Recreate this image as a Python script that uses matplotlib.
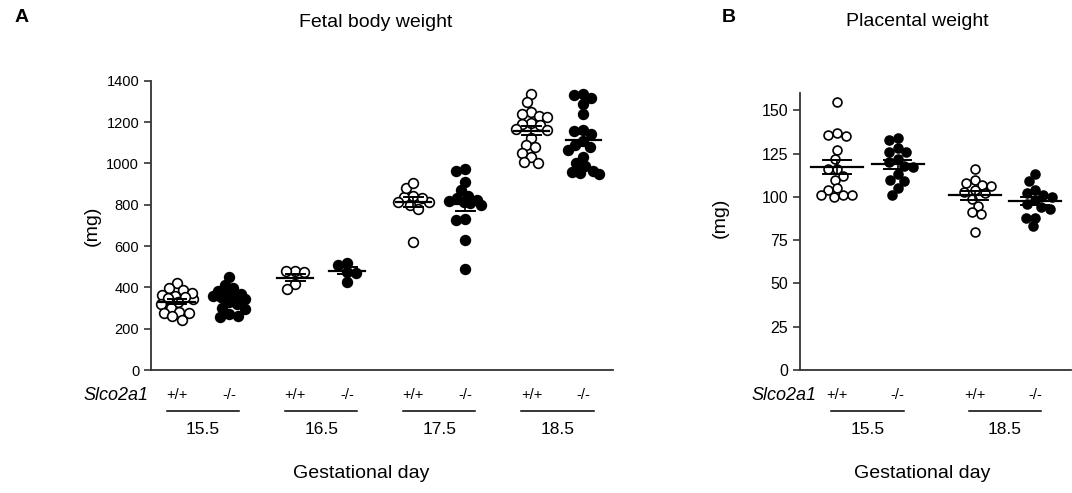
import numpy as np
import matplotlib
matplotlib.use("Agg")
import matplotlib.pyplot as plt
from matplotlib.transforms import blended_transform_factory

plt.rcParams["font.family"] = ["Liberation Sans", "DejaVu Sans"]

# ---- data (mg) ----
days_a = ["15.5", "16.5", "17.5", "18.5"]
fetal_wt = [
    [345, 420, 395, 385, 375, 365, 360, 355, 350, 330, 320, 300, 280, 275, 275, 260, 240],
    [480, 472, 478, 415, 392],
    [800, 835, 880, 905, 840, 815, 815, 780, 620, 830],
    [1335, 1295, 1250, 1240, 1230, 1225, 1195, 1190, 1185, 1165, 1160, 1125,
     1090, 1080, 1050, 1030, 1005, 1000],
]
fetal_ko = [
    [360, 450, 410, 395, 380, 370, 365, 360, 355, 345, 330, 320, 300, 295, 270, 260, 255],
    [510, 520, 475, 470, 425],
    [975, 965, 910, 870, 840, 830, 825, 820, 815, 810, 800, 730, 725, 630, 490],
    [1335, 1330, 1315, 1285, 1240, 1160, 1155, 1140, 1110, 1090, 1080, 1065,
     1030, 1000, 985, 965, 960, 955, 950],
]
days_b = ["15.5", "18.5"]
plac_wt = [
    [155, 136, 135, 137, 127, 122, 116, 116, 112, 110, 105, 104, 101, 100, 101, 101],
    [116, 110, 108, 107, 106, 104, 102, 103, 99, 95, 91, 90, 80],
]
plac_ko = [
    [134, 133, 128, 126, 126, 122, 120, 118, 117, 113, 110, 109, 105, 101],
    [113, 109, 104, 102, 101, 100, 98, 96, 94, 93, 88, 88, 83],
]
genotypes = ["+/+", "-/-"]


def swarm(vals, px_per_val, diam, gap, max_w):
    """Deterministic beeswarm offsets in pixels, clamped to +-max_w."""
    vals = np.asarray(vals, float)
    cand = sorted(np.arange(-max_w, max_w + 0.25, 0.5), key=lambda c: (abs(c), c))
    placed, offs = [], np.zeros(len(vals))
    for i in np.argsort(-vals):
        y = vals[i] * px_per_val
        best, best_d = 0.0, -1.0
        for c in cand:
            dmin = min((np.hypot(c - px, y - py) for px, py in placed), default=1e9)
            if dmin >= gap * diam:
                best = c
                break
            if dmin > best_d + 0.5:
                best, best_d = c, dmin
        placed.append((best, y))
        offs[i] = best
    return offs


def panel(ax, days, wt, ko, unit_px, px_per_val, diam, gap, max_w, ms, mhw, shw, ul_hw,
          y0, title, title_x, gd_x, slco_x, tick_fs):
    for i, (a, b) in enumerate(zip(wt, ko)):
        for vals, dx, filled in ((a, -0.22, False), (b, 0.22, True)):
            xs = i + dx + swarm(vals, px_per_val, diam, gap, max_w) / unit_px
            ax.scatter(xs, vals, s=ms ** 2, facecolor="black" if filled else "white",
                       edgecolor="black", linewidth=1.2, zorder=2, clip_on=False)
            m = np.mean(vals)
            sem = np.std(vals, ddof=1) / np.sqrt(len(vals))
            c = i + dx
            ax.plot([c - mhw, c + mhw], [m, m], color="black", lw=1.6, zorder=3)
            for v in (m - sem, m + sem):
                ax.plot([c - shw, c + shw], [v, v], color="black", lw=1.4, zorder=3)
            ax.plot([c, c], [m - sem, m + sem], color="black", lw=1.2, zorder=3)

    tr = blended_transform_factory(ax.transData, ax.transAxes)
    ax_h = ax.bbox.height
    fy = lambda px: -px / ax_h  # pixels below the x axis -> axes fraction
    for i, d in enumerate(days):
        for g, dx in zip(genotypes, (-0.22, 0.22)):
            ax.text(i + dx, fy(25), g, transform=tr, ha="center", va="center", fontsize=10.5)
        ax.plot([i - ul_hw, i + ul_hw], [fy(41)] * 2, transform=tr, color="black",
                lw=1.1, clip_on=False)
        ax.text(i, fy(59), d, transform=tr, ha="center", va="center", fontsize=12.5)
    ax.text(slco_x, fy(25), "Slco2a1", transform=tr, ha="right", va="center",
            fontsize=13, style="italic")
    ax.text(gd_x, fy(103), "Gestational day", transform=tr, ha="center", va="center",
            fontsize=14)
    ax.text(title_x, 1 + (y0 - 22) / ax_h, title, transform=tr, ha="center",
            va="center", fontsize=14)

    for s in ("top", "right"):
        ax.spines[s].set_visible(False)
    for s in ("left", "bottom"):
        ax.spines[s].set_linewidth(1.3)
        ax.spines[s].set_color("#333333")
    ax.set_xticks([])
    ax.tick_params(axis="y", length=5, width=1.2, color="#333333", labelsize=tick_fs)
    ax.set_ylabel("(mg)", fontsize=14)


fig = plt.figure(figsize=(10.72, 4.93), dpi=100)
W, H = 1072, 493

# panel A: axis box 151..613 px, y 80.7..370 px
axA = fig.add_axes([151 / W, (H - 370) / H, (613 - 151) / W, (370 - 80.7) / H])
axA.set_xlim(-0.44, 3.47)
axA.set_ylim(0, 1400)
axA.set_yticks(range(0, 1401, 200))
panel(axA, days_a, fetal_wt, fetal_ko, unit_px=118, px_per_val=289.3 / 1400,
      diam=10, gap=0.9, max_w=16, ms=7.0, mhw=0.15, shw=0.08, ul_hw=0.305, y0=80.7,
      title="Fetal body weight", title_x=1.46, gd_x=1.34, slco_x=-0.46, tick_fs=10.5)
axA.yaxis.set_label_coords(-(151 - 101) / 462, 0.5)

# panel B: axis box 800..1072 px, y 93..370 px
axB = fig.add_axes([800 / W, (H - 370) / H, (1071 - 800) / W, (370 - 93) / H])
axB.set_xlim(-0.49, 1.48)
axB.set_ylim(0, 160)
axB.set_yticks(range(0, 151, 25))
panel(axB, days_b, plac_wt, plac_ko, unit_px=137.5, px_per_val=277 / 160,
      diam=9, gap=1.0, max_w=17, ms=6.4, mhw=0.19, shw=0.1, ul_hw=0.265, y0=93,
      title="Placental weight", title_x=0.36, gd_x=0.40, slco_x=-0.37, tick_fs=11.5)
axB.yaxis.set_label_coords(-(800 - 729) / 271, 0.55)

fig.text(15 / W, 1 - 18 / H, "A", fontsize=14, fontweight="bold", va="center")
fig.text(722 / W, 1 - 18 / H, "B", fontsize=14, fontweight="bold", va="center")

fig.savefig("out.png", dpi=100)
